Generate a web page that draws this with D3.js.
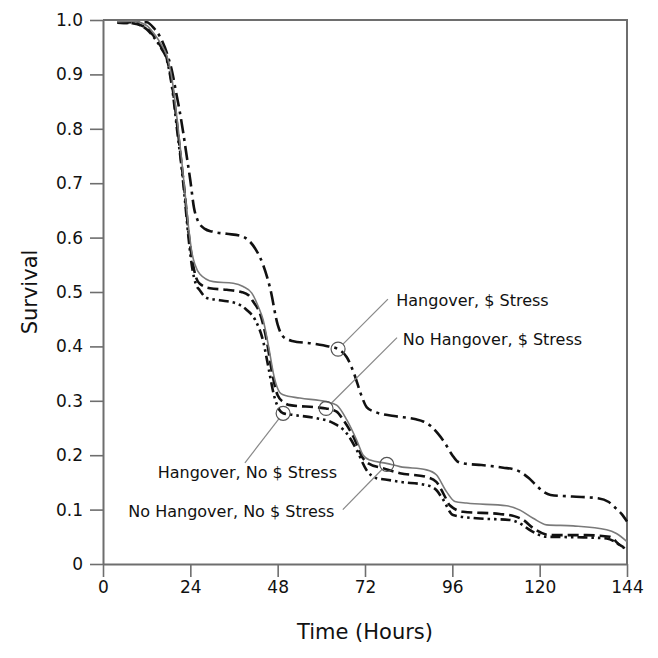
<!DOCTYPE html>
<html>
<head>
<meta charset="utf-8">
<script src="https://cdn.jsdelivr.net/npm/d3@7"></script>
<style>
  body { margin: 0; background: #fff; }
  text { font-family: "DejaVu Sans", sans-serif; fill: #111; }
</style>
</head>
<body>
<div id="chart"></div>
<script>
// Hangover, $ Stress (dash-dot)
const hangStressTime = [4, 8, 12, 14, 16, 18, 19, 20, 21, 22, 23, 24, 25, 26, 28, 30, 34, 38, 40, 42, 44, 46, 48, 49.5, 52, 58, 62, 64.6, 67, 69, 71, 72.5, 75, 80, 86, 88, 90, 92, 94, 96, 97.5, 100, 104, 110, 113, 115, 117, 119, 121, 123, 129, 136, 139, 141, 142.5, 144];
const hangStressSurv = [0.995, 0.996, 0.996, 0.985, 0.965, 0.93, 0.905, 0.87, 0.835, 0.795, 0.75, 0.705, 0.655, 0.632, 0.616, 0.611, 0.607, 0.603, 0.595, 0.578, 0.55, 0.505, 0.44, 0.418, 0.41, 0.405, 0.4, 0.395, 0.38, 0.35, 0.31, 0.288, 0.279, 0.272, 0.266, 0.262, 0.254, 0.24, 0.222, 0.2, 0.188, 0.184, 0.182, 0.177, 0.174, 0.168, 0.158, 0.145, 0.133, 0.127, 0.124, 0.121, 0.114, 0.102, 0.092, 0.078];

// No Hangover, $ Stress (dashed)
const noHangStressTime = [4, 8, 12, 14, 16, 17.5, 19, 20.5, 21.5, 22.5, 23.5, 24.5, 25.5, 26.6, 29.4, 34, 38, 40, 41.3, 43.1, 45, 46.5, 48, 49.5, 51.4, 58.7, 61.3, 64.2, 66, 68.8, 71.5, 72.9, 77, 81.6, 88.9, 91.6, 93.5, 95.3, 99, 109, 113, 115.5, 118.2, 122.8, 132.8, 139.3, 142, 144];
const noHangStressSurv = [0.995, 0.994, 0.985, 0.97, 0.95, 0.93, 0.88, 0.8, 0.74, 0.68, 0.61, 0.56, 0.528, 0.515, 0.507, 0.504, 0.5, 0.494, 0.482, 0.461, 0.41, 0.35, 0.31, 0.298, 0.292, 0.288, 0.286, 0.28, 0.265, 0.234, 0.194, 0.185, 0.176, 0.167, 0.16, 0.151, 0.13, 0.108, 0.096, 0.092, 0.088, 0.081, 0.066, 0.053, 0.053, 0.05, 0.035, 0.028];

// Hangover, No $ Stress (dash-dot-dot)
const hangNoStressTime = [4, 8, 12, 14, 16, 17.5, 19, 20.5, 21.5, 22.5, 23.5, 24.5, 25.5, 26.6, 28.5, 32, 36.7, 39.5, 41.8, 44, 45.5, 47, 48.5, 49.5, 52.3, 58.7, 63.3, 67, 69.7, 72.4, 75, 78, 81.6, 88.9, 91.6, 93.5, 96.2, 102.6, 111.7, 114.5, 117.3, 121.9, 132, 138.4, 142, 144];
const hangNoStressSurv = [0.995, 0.994, 0.983, 0.968, 0.948, 0.928, 0.875, 0.79, 0.735, 0.67, 0.6, 0.545, 0.515, 0.503, 0.489, 0.485, 0.479, 0.467, 0.449, 0.41, 0.36, 0.31, 0.283, 0.277, 0.274, 0.268, 0.259, 0.24, 0.21, 0.173, 0.158, 0.155, 0.151, 0.145, 0.136, 0.118, 0.09, 0.084, 0.081, 0.075, 0.0625, 0.05, 0.049, 0.047, 0.035, 0.026];

// No Hangover, No $ Stress (solid gray)
const noHangNoStressTime = [4, 8, 12, 14, 16, 17.5, 19, 20.5, 21.5, 22.5, 23.5, 24.5, 25.3, 26.6, 30.3, 35.8, 38.5, 40.9, 42.7, 44, 45.5, 47, 48.5, 49.5, 54.1, 61.5, 64.2, 67, 69.7, 71.5, 73.4, 77.9, 81.6, 88.9, 91.6, 94.4, 96.7, 99.9, 110.9, 114.6, 118.2, 121.9, 129.2, 138.4, 141.1, 144];
const noHangNoStressSurv = [0.997, 0.998, 0.99, 0.975, 0.955, 0.935, 0.89, 0.81, 0.75, 0.685, 0.62, 0.57, 0.55, 0.533, 0.519, 0.516, 0.51, 0.498, 0.473, 0.449, 0.4, 0.345, 0.316, 0.311, 0.305, 0.298, 0.292, 0.265, 0.228, 0.2, 0.191, 0.185, 0.179, 0.173, 0.164, 0.133, 0.115, 0.112, 0.107, 0.099, 0.084, 0.072, 0.07, 0.063, 0.056, 0.041];

// Tick labels
const xTicks = [0, 24, 48, 72, 96, 120, 144];
const yTicks = [0, 0.1, 0.2, 0.3, 0.4, 0.5, 0.6, 0.7, 0.8, 0.9, 1.0];

// Annotation: label, marked point, leader end, text anchor point
const labelNames = ['Hangover, $ Stress', 'No Hangover, $ Stress', 'Hangover, No $ Stress', 'No Hangover, No $ Stress'];
const markTime = [64.6, 61.3, 49.5, 78];
const markSurv = [0.395, 0.286, 0.277, 0.183];
const leaderTime = [78.3, 80.8, 39, 65.9];
const leaderSurv = [0.487, 0.416, 0.186, 0.1];
const labelTime = [80.6, 82.4, 64.3, 63.6];
const labelSurv = [0.485, 0.412, 0.168, 0.096];

// Set the dimensions and margins of the graph
const margin = { top: 20, right: 31, bottom: 94, left: 103 };
const width = 658 - margin.left - margin.right;
const height = 658 - margin.top - margin.bottom;

const svg = d3.select('#chart')
  .append('svg')
  .attr('width', 658)
  .attr('height', 658)
  .append('g')
  .attr('transform', `translate(${margin.left},${margin.top})`);

const x = d3.scaleLinear().domain([0, 144]).range([0, width]);
const y = d3.scaleLinear().domain([0, 1]).range([height, 0]);

const axisColor = '#6e6e6e';

// Frame (top and right)
svg.append('path')
  .attr('d', `M0,${y(1)}H${x(144)}V${y(0)}`)
  .attr('fill', 'none')
  .attr('stroke', axisColor)
  .attr('stroke-width', 2);

// Axes
const xAxis = svg.append('g')
  .attr('transform', `translate(0,${height})`)
  .call(d3.axisBottom(x).tickValues(xTicks).tickSize(13).tickPadding(4).tickSizeOuter(0));

const yAxis = svg.append('g')
  .call(d3.axisLeft(y).tickValues(yTicks).tickSize(13).tickPadding(7).tickSizeOuter(0)
    .tickFormat(d => d === 0 ? '0' : d3.format('.1f')(d)));

[xAxis, yAxis].forEach(a => {
  a.select('.domain').attr('stroke', axisColor).attr('stroke-width', 2);
  a.selectAll('.tick line').attr('stroke', axisColor).attr('stroke-width', 1.6);
  a.selectAll('.tick text')
    .style('font-family', '"DejaVu Sans", sans-serif')
    .style('font-size', '17px')
    .attr('fill', '#111');
});

// Survival curves
const series = [
  { t: hangStressTime, s: hangStressSurv, color: '#111', w: 2.6, dash: '14,5,3,5' },
  { t: noHangStressTime, s: noHangStressSurv, color: '#111', w: 2.6, dash: '11,5' },
  { t: hangNoStressTime, s: hangNoStressSurv, color: '#111', w: 2.6, dash: '10,4,2.5,4,2.5,4' },
  { t: noHangNoStressTime, s: noHangNoStressSurv, color: '#7a7a7a', w: 1.6, dash: null }
];

const line = d3.line()
  .x(d => x(d[0]))
  .y(d => y(d[1]))
  .curve(d3.curveMonotoneX);

series.forEach(sr => {
  svg.append('path')
    .datum(sr.t.map((t, i) => [t, sr.s[i]]))
    .attr('fill', 'none')
    .attr('stroke', sr.color)
    .attr('stroke-width', sr.w)
    .attr('stroke-dasharray', sr.dash)
    .attr('d', line);
});

// Annotations with circles and leader lines
const r = 7;
labelNames.forEach((name, i) => {
  const cx = x(markTime[i]), cy = y(markSurv[i]);
  const lx = x(leaderTime[i]), ly = y(leaderSurv[i]);
  const ang = Math.atan2(ly - cy, lx - cx);

  svg.append('line')
    .attr('x1', cx + r * Math.cos(ang))
    .attr('y1', cy + r * Math.sin(ang))
    .attr('x2', lx)
    .attr('y2', ly)
    .attr('stroke', '#888')
    .attr('stroke-width', 1.2);

  svg.append('circle')
    .attr('cx', cx)
    .attr('cy', cy)
    .attr('r', r)
    .attr('fill', 'none')
    .attr('stroke', '#555')
    .attr('stroke-width', 1.2);

  svg.append('text')
    .attr('x', x(labelTime[i]))
    .attr('y', y(labelSurv[i]))
    .attr('dy', '0.35em')
    .style('text-anchor', i < 2 ? 'start' : 'end')
    .style('font-size', '16px')
    .text(name);
});

// Axis titles
svg.append('text')
  .attr('transform', 'rotate(-90)')
  .attr('x', -height / 2)
  .attr('y', -margin.left + 30)
  .attr('dy', '0.35em')
  .style('text-anchor', 'middle')
  .style('font-size', '21px')
  .text('Survival');

svg.append('text')
  .attr('x', width / 2)
  .attr('y', height + 68)
  .attr('dy', '0.35em')
  .style('text-anchor', 'middle')
  .style('font-size', '21px')
  .text('Time (Hours)');
</script>
</body>
</html>
